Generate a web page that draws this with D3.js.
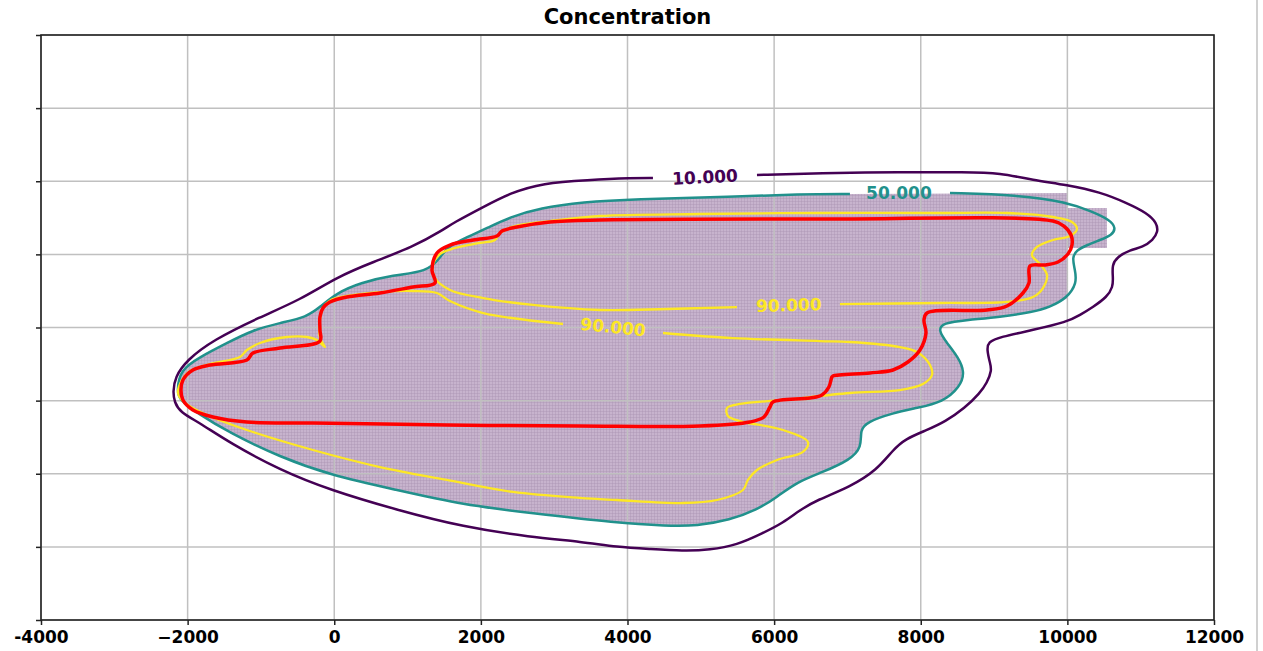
<!DOCTYPE html>
<html>
<head>
<meta charset="utf-8">
<script src="https://cdn.jsdelivr.net/npm/d3@7/dist/d3.min.js"></script>
<style>
  body { margin: 0; background: #fff; }
  svg { display: block; font-family: "DejaVu Sans", sans-serif; }
</style>
</head>
<body>
<svg id="chart" width="1263" height="651"></svg>
<script>
// axis ticks
const xTicks = [-4000, -2000, 0, 2000, 4000, 6000, 8000, 10000, 12000];
const xTickLabels = ["-4000", "\u22122000", "0", "2000", "4000", "6000", "8000", "10000", "12000"];
const yTicks = [-4000, -3000, -2000, -1000, 0, 1000, 2000, 3000, 4000];

// contour level 10 (open at its label)
const c10 = [
  [5766,2085],[6625,2113],[7716,2126],[8630,2126],[9080,2113],[9531,2017],[9995,1949],
  [10445,1853],[10813,1702],[11086,1566],[11222,1429],[11236,1306],[11168,1197],[11031,1101],
  [10854,1060],[10677,964],[10609,855],[10622,691],[10622,554],[10540,417],[10349,280],
  [10172,171],[9995,75],[9531,-34],[9080,-130],[8917,-198],[8903,-308],[8944,-485],
  [8971,-581],[8903,-759],[8807,-896],[8603,-1101],[8330,-1290],[8085,-1402],[7785,-1525],
  [7621,-1675],[7402,-1949],[7034,-2181],[6584,-2359],[6352,-2495],[6120,-2673],[5848,-2810],
  [5493,-2974],[5125,-3043],[4757,-3057],[4306,-3029],[3856,-3002],[3392,-2933],[2670,-2865],
  [1760,-2728],[855,-2495],[-59,-2222],[-741,-1949],[-1423,-1579],[-1832,-1306],[-2105,-1156],
  [-2180,-1019],[-2200,-882],[-2173,-677],[-2009,-444],[-1654,-171],[-1013,144],[-468,376],
  [37,691],[528,896],[1073,1101],[1483,1333],[1619,1429],[2033,1648],[2397,1839],[2847,1976],
  [3447,2017],[4074,2044],[4347,2044]
];

// contour level 50 (open at its label)
const c50 = [
  [8399,1839],[9312,1812],[9995,1716],[10349,1579],[10581,1470],[10663,1361],[10609,1265],
  [10445,1197],[10268,1128],[10131,1060],[10063,964],[10104,786],[10131,609],[9995,403],
  [9763,280],[9531,212],[9080,144],[8630,103],[8303,62],[8235,-34],[8358,-212],[8508,-403],
  [8603,-608],[8535,-814],[8303,-1019],[7948,-1101],[7621,-1169],[7266,-1292],[7171,-1402],
  [7198,-1634],[7034,-1812],[6666,-1976],[6311,-2112],[6039,-2318],[5766,-2495],[5397,-2632],
  [4947,-2714],[4538,-2714],[3856,-2673],[2670,-2536],[1760,-2427],[855,-2222],[-59,-2017],
  [-741,-1771],[-1423,-1443],[-1873,-1169],[-2105,-991],[-2146,-882],[-2105,-581],[-1832,-403],
  [-1464,-212],[-1109,-34],[-741,62],[-372,144],[-195,280],[37,472],[350,609],[800,718],
  [1264,759],[1442,950],[1537,1101],[1815,1238],[2087,1361],[2397,1511],[2806,1634],
  [3392,1716],[4074,1757],[5438,1785],[6352,1826],[7034,1826]
];

// blocky right edge of the shaded cells
const maskEdge = [
  [10008,1839],[10008,1634],[10540,1634],[10540,1087],[10008,1087],[10008,403]
];

// level 90, upper loop (open at its label)
const c90a = [
  [6898,321],[8262,335],[9176,349],[9531,417],[9667,540],[9722,718],[9626,868],[9517,991],
  [9585,1101],[9804,1197],[10036,1251],[10131,1347],[10063,1443],[9804,1511],[9176,1566],
  [8262,1566],[6625,1566],[4988,1552],[3624,1525],[2942,1456],[2465,1388],[2260,1292],
  [2192,1197],[1988,1156],[1646,1087],[1442,1005],[1346,855],[1374,677],[1578,513],
  [2033,403],[2711,308],[3624,239],[4538,253],[5493,280]
];

// level 90, lower loop (open at its label)
const c90b = [
  [4484,-75],[5438,-144],[6625,-185],[7034,-198],[7716,-267],[7948,-335],[8126,-513],
  [8153,-650],[8030,-773],[7716,-855],[7034,-896],[6120,-991],[5534,-1046],[5357,-1101],
  [5370,-1210],[5534,-1279],[6120,-1402],[6461,-1566],[6393,-1702],[6039,-1812],[5766,-1949],
  [5643,-2085],[5575,-2222],[5220,-2359],[4757,-2400],[3856,-2359],[3351,-2331],[2438,-2249],
  [1537,-2085],[623,-1908],[-291,-1675],[-1191,-1402],[-1736,-1197],[-2037,-1032],[-2132,-896],
  [-2077,-718],[-1968,-595],[-1695,-499],[-1286,-403],[-1191,-308],[-1013,-212],[-645,-130],
  [-372,-130],[-236,-171],[-127,-267],[-195,-144],[-195,103],[-154,267],[-45,376],[173,431],
  [623,485],[1073,499],[1401,472],[1578,362],[2033,198],[3120,48]
];

// threshold outline (closed)
const threshold = [
  [-2091,-855],[-2064,-718],[-1928,-581],[-1695,-513],[-1191,-444],[-1109,-349],[-741,-280],
  [-195,-185],[-195,-34],[-195,144],[-154,267],[-59,349],[173,417],[623,472],[1073,554],
  [1374,609],[1333,786],[1401,1019],[1578,1128],[1897,1197],[2219,1251],[2288,1320],
  [2492,1374],[2942,1443],[3624,1470],[6625,1484],[9804,1456],[9953,1388],[10050,1265],
  [10063,1128],[10008,1005],[9872,896],[9695,855],[9490,841],[9476,609],[9394,472],
  [9176,294],[8903,239],[8085,198],[8044,103],[8071,-75],[7989,-308],[7825,-472],[7621,-581],
  [7307,-622],[6802,-663],[6788,-677],[6747,-814],[6652,-923],[6489,-964],[5984,-1019],
  [5943,-1087],[5861,-1224],[5670,-1292],[4988,-1347],[3351,-1347],[1537,-1333],[-291,-1306],
  [-1191,-1292],[-1654,-1224],[-1928,-1128],[-2064,-991]
];

// inline contour labels: [x, y, text, rotation]
const labels10 = [[5057, 2058, "10.000", -3]];
const labels50 = [[7702, 1839, "50.000", 0]];
const labels90 = [[6200, 308, "90.000", -1.5], [3804, 7, "90.000", 6]];

const svg = d3.select("#chart");
const x = d3.scaleLinear([-4000, 12000], [41, 1214]);
const y = d3.scaleLinear([-4000, 4000], [620, 35]);

const soft = d3.line().x(d => x(d[0])).y(d => y(d[1])).curve(d3.curveBasis);
const smooth = d3.line().x(d => x(d[0])).y(d => y(d[1])).curve(d3.curveCatmullRom.alpha(0.5));
const smoothClosed = d3.line().x(d => x(d[0])).y(d => y(d[1])).curve(d3.curveCatmullRomClosed.alpha(0.5));
const straight = d3.line().x(d => x(d[0])).y(d => y(d[1]));

// mesh texture for the shaded cells
const defs = svg.append("defs");
const pat = defs.append("pattern")
    .attr("id", "mesh")
    .attr("patternUnits", "userSpaceOnUse")
    .attr("width", 3).attr("height", 3);
pat.append("rect").attr("width", 3).attr("height", 3).attr("fill", "#c7b3cd");
pat.append("path").attr("d", "M0,0.25H3M0.25,0V3")
    .attr("stroke", "#a88fb1").attr("stroke-width", 0.5);

// shaded region: teal outline below the tip + blocky tip edge
const fillD = soft(c50.slice(14)) + straight(maskEdge).replace("M", "L") + "Z";
svg.append("path").attr("d", fillD).attr("fill", "url(#mesh)");

// grid
const grid = svg.append("g").attr("stroke", "#c0c0c0").attr("stroke-width", 1.5);
grid.selectAll("line.v").data(xTicks).join("line")
    .attr("x1", d => x(d)).attr("x2", d => x(d)).attr("y1", 35).attr("y2", 620);
grid.selectAll("line.h").data(yTicks).join("line")
    .attr("x1", 41).attr("x2", 1214).attr("y1", d => y(d)).attr("y2", d => y(d));

// contours
const lines = svg.append("g").attr("fill", "none").attr("stroke-linejoin", "round");
lines.append("path").attr("d", soft(c10)).attr("stroke", "#440154").attr("stroke-width", 2.5);
lines.append("path").attr("d", soft(c50)).attr("stroke", "#21918c").attr("stroke-width", 2.5);
lines.append("path").attr("d", smooth(c90a)).attr("stroke", "#fde725").attr("stroke-width", 2.3);
lines.append("path").attr("d", smooth(c90b)).attr("stroke", "#fde725").attr("stroke-width", 2.3);
lines.append("path").attr("d", smoothClosed(threshold)).attr("stroke", "#ff0000").attr("stroke-width", 3.5);

// contour labels
function addLabels(data, color) {
  svg.append("g").selectAll("text").data(data).join("text")
      .attr("transform", d => `translate(${x(d[0])},${y(d[1])}) rotate(${d[3]})`)
      .attr("text-anchor", "middle")
      .attr("dy", "0.36em")
      .attr("font-size", 17)
      .attr("font-weight", "bold")
      .attr("fill", color)
      .text(d => d[2]);
}
addLabels(labels10, "#440154");
addLabels(labels50, "#21918c");
addLabels(labels90, "#fde725");

// axes
const xAxis = svg.append("g").attr("transform", "translate(0,620)")
    .call(d3.axisBottom(x).tickValues(xTicks).tickFormat((d, i) => xTickLabels[i]).tickSize(5).tickPadding(6));
xAxis.select(".domain").remove();
xAxis.selectAll("text").attr("font-size", 17).attr("font-weight", "bold").attr("fill", "#000")
    .attr("font-family", "DejaVu Sans");
xAxis.selectAll("line").attr("stroke", "#222").attr("stroke-width", 1.5);

const yAxis = svg.append("g").attr("transform", "translate(41,0)")
    .call(d3.axisLeft(y).tickValues(yTicks).tickFormat("").tickSize(5));
yAxis.select(".domain").remove();
yAxis.selectAll("line").attr("stroke", "#222").attr("stroke-width", 1.5);

// spines
svg.append("rect").attr("x", 41).attr("y", 35).attr("width", 1173).attr("height", 585)
    .attr("fill", "none").attr("stroke", "#222").attr("stroke-width", 1.6);

// title
svg.append("text").attr("x", 627.5).attr("y", 24).attr("text-anchor", "middle")
    .attr("font-size", 21).attr("font-weight", "bold").text("Concentration");

// page edge line on the right
svg.append("line").attr("x1", 1257).attr("x2", 1257).attr("y1", 0).attr("y2", 651)
    .attr("stroke", "#d0d0d0").attr("stroke-width", 2);
</script>
</body>
</html>
